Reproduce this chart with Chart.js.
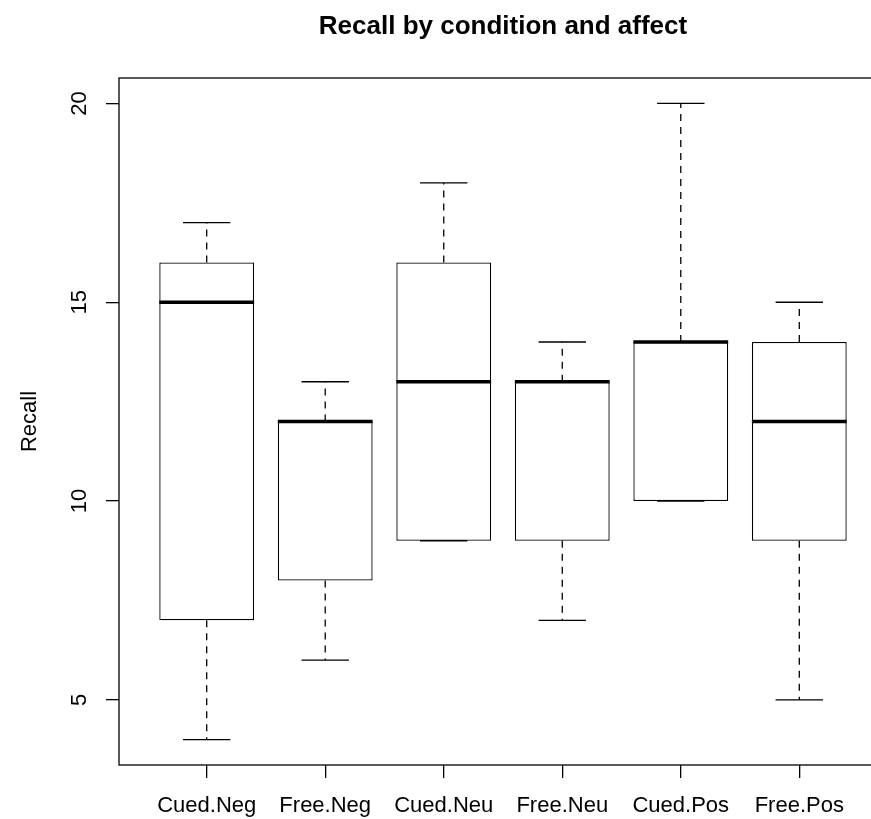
<!DOCTYPE html>
<html>
<head>
<meta charset="utf-8">
<script src="https://cdn.jsdelivr.net/npm/chart.js@4"></script>
<style>
  html, body { margin: 0; padding: 0; background: #fff; overflow: hidden; }
  canvas { display: block; }
</style>
</head>
<body>
<canvas id="recall-box" width="900" height="819"></canvas>
<script>
// boxplot stats
var categories = ['Cued.Neg', 'Free.Neg', 'Cued.Neu', 'Free.Neu', 'Cued.Pos', 'Free.Pos']
var whiskerLow = [4, 6, 9, 7, 10, 5]
var lowerQuartile = [7, 8, 9, 9, 10, 9]
var median = [15, 12, 13, 13, 14, 12]
var upperQuartile = [16, 12, 16, 13, 14, 14]
var whiskerHigh = [17, 13, 18, 14, 20, 15]
var yTicks = [5, 10, 15, 20]

Chart.defaults.font.family = '"Liberation Sans", Arial, Helvetica, sans-serif'
Chart.defaults.color = '#000'

var boxData = categories.map(function (c, i) {
  return { x: i + 1, y: [lowerQuartile[i], upperQuartile[i]] }
})

// whiskers, staples, medians and the frame, like R's bxp()
var boxExtras = {
  id: 'boxExtras',
  afterDatasetsDraw: function (chart) {
    var ctx = chart.ctx
    var y = chart.scales.y
    var meta = chart.getDatasetMeta(0)
    ctx.save()
    ctx.strokeStyle = '#000'
    meta.data.forEach(function (bar, i) {
      var x = bar.x
      var half = bar.width / 2
      var staple = half / 2
      ctx.lineWidth = 1.3
      ctx.setLineDash([7, 6])
      ctx.beginPath()
      ctx.moveTo(x, y.getPixelForValue(upperQuartile[i]))
      ctx.lineTo(x, y.getPixelForValue(whiskerHigh[i]))
      ctx.moveTo(x, y.getPixelForValue(lowerQuartile[i]))
      ctx.lineTo(x, y.getPixelForValue(whiskerLow[i]))
      ctx.stroke()
      ctx.setLineDash([])
      ctx.beginPath()
      ctx.moveTo(x - staple, y.getPixelForValue(whiskerHigh[i]))
      ctx.lineTo(x + staple, y.getPixelForValue(whiskerHigh[i]))
      ctx.moveTo(x - staple, y.getPixelForValue(whiskerLow[i]))
      ctx.lineTo(x + staple, y.getPixelForValue(whiskerLow[i]))
      ctx.stroke()
      ctx.lineWidth = 3.5
      ctx.beginPath()
      ctx.moveTo(x - half, y.getPixelForValue(median[i]))
      ctx.lineTo(x + half, y.getPixelForValue(median[i]))
      ctx.stroke()
    })
    var a = chart.chartArea
    ctx.lineWidth = 1.3
    ctx.strokeRect(a.left, a.top, a.right - a.left, a.bottom - a.top)
    ctx.restore()
  }
}

new Chart(document.getElementById('recall-box'), {
  type: 'bar',
  data: {
    datasets: [
      {
        data: boxData,
        backgroundColor: '#fff',
        borderColor: '#000',
        borderWidth: 1.3,
        borderSkipped: false,
        barPercentage: 0.8,
        categoryPercentage: 1,
      },
    ],
  },
  options: {
    responsive: false,
    animation: false,
    layout: { padding: { left: 0, top: 0, right: 13, bottom: 0 } },
    plugins: {
      legend: { display: false },
      tooltip: { enabled: false },
      title: {
        display: true,
        text: 'Recall by condition and affect',
        fullSize: false,
        font: { size: 26, weight: 'bold', lineHeight: 1.2 },
        padding: { top: 11, bottom: 35.8 },
      },
    },
    scales: {
      x: {
        type: 'linear',
        min: 0.26,
        max: 6.74,
        offset: false,
        border: { display: false },
        grid: { offset: false, drawOnChartArea: false, drawTicks: true, tickLength: 13, color: '#000', lineWidth: 1.3 },
        ticks: {
          font: { size: 22 },
          padding: 15,
          autoSkip: false,
          maxRotation: 0,
          callback: function (v) { return categories[v - 1] },
        },
        afterBuildTicks: function (scale) {
          scale.ticks = categories.map(function (c, i) { return { value: i + 1 } })
        },
        afterFit: function (scale) { scale.height = 54 },
      },
      y: {
        min: 3.36,
        max: 20.64,
        border: { display: false },
        grid: { drawOnChartArea: false, drawTicks: true, tickLength: 13, color: '#000', lineWidth: 1.3 },
        ticks: {
          font: { size: 22 },
          padding: 14,
          minRotation: 90,
          maxRotation: 90,
          crossAlign: 'center',
        },
        title: {
          display: true,
          text: 'Recall',
          font: { size: 22 },
          padding: { top: 17, bottom: 0 },
        },
        afterBuildTicks: function (scale) {
          scale.ticks = yTicks.map(function (v) { return { value: v } })
        },
        afterFit: function (scale) { scale.width = 119 },
      },
    },
  },
  plugins: [boxExtras],
})
</script>
</body>
</html>
